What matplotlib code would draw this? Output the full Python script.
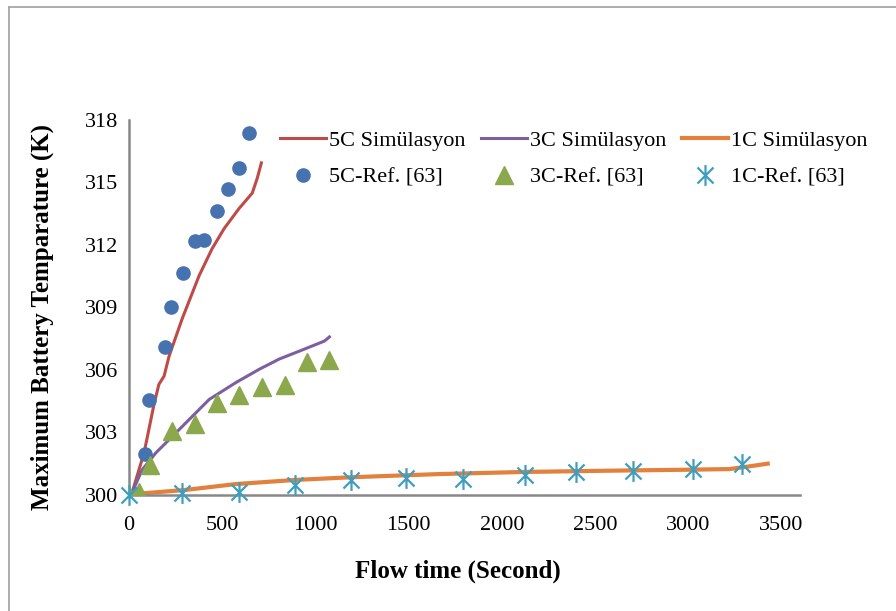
"""
Maximum battery temperature vs. flow time at 1C / 3C / 5C discharge.

Simulation curves (lines) against the reference measurements [63] (markers),
laid out like the Excel original: Times-style text, grey L-shaped axes, a
two-row legend in the upper right and a thin outer frame.
"""

import matplotlib
matplotlib.use("Agg")
import matplotlib.pyplot as plt
from matplotlib.lines import Line2D
from matplotlib.path import Path

# --- simulation curves -------------------------------------------------------
sim_5c_t = [0, 16, 81, 134, 160, 188, 215, 285, 376, 446, 511, 591, 661, 688, 710]
sim_5c_T = [300.0, 300.1, 302.03, 304.34, 305.3, 305.7, 306.66, 308.45, 310.52,
            311.82, 312.79, 313.75, 314.48, 315.2, 315.93]

sim_3c_t = [0, 16, 70, 145, 215, 323, 430, 575, 699, 806, 914, 1048, 1075]
sim_3c_T = [300.0, 300.1, 301.2, 302.03, 302.65, 303.62, 304.58, 305.4, 306.03,
            306.52, 306.9, 307.38, 307.58]

sim_1c_t = [0, 80, 304, 573, 895, 1199, 1664, 2110, 2559, 3006, 3221, 3328, 3426]
sim_1c_T = [300.0, 300.08, 300.24, 300.52, 300.72, 300.85, 301.0, 301.1, 301.16,
            301.21, 301.24, 301.37, 301.5]

# --- reference data [63] -----------------------------------------------------
ref_5c_t = [86, 108, 194, 226, 290, 355, 403, 473, 532, 591, 645]
ref_5c_T = [301.98, 304.54, 307.09, 309.02, 310.67, 312.16, 312.21, 313.61,
            314.67, 315.69, 317.37]

ref_3c_t = [0, 54, 111, 233, 353, 471, 591, 711, 837, 957, 1075]
ref_3c_T = [300.0, 300.16, 301.45, 303.06, 303.41, 304.39, 304.78, 305.2,
            305.26, 306.37, 306.47]

ref_1c_t = [0, 283, 590, 891, 1193, 1488, 1793, 2124, 2398, 2705, 3027, 3289]
ref_1c_T = [300.0, 300.08, 300.16, 300.48, 300.72, 300.81, 300.77, 300.97,
            301.08, 301.16, 301.24, 301.5]

x_ticks = [0, 500, 1000, 1500, 2000, 2500, 3000, 3500]
y_ticks = [300, 303, 306, 309, 312, 315, 318]

plt.rcParams["font.family"] = ["Liberation Serif", "DejaVu Serif"]

# Excel "star" marker: an X with a vertical bar through it
star = Path(
    [(-1, -1), (1, 1), (-1, 1), (1, -1), (0, -1.3), (0, 1.3)],
    [Path.MOVETO, Path.LINETO, Path.MOVETO, Path.LINETO, Path.MOVETO, Path.LINETO],
)

fig = plt.figure(figsize=(8.96, 6.11), dpi=100)
ax = fig.add_axes([0.144, 0.19, 0.749, 0.614])

l5, = ax.plot(sim_5c_t, sim_5c_T, color="#BE4B48", lw=2.2, zorder=2)
l3, = ax.plot(sim_3c_t, sim_3c_T, color="#7D5FA0", lw=2.2, zorder=2)
l1, = ax.plot(sim_1c_t, sim_1c_T, color="#E2803D", lw=3.0, zorder=2)

m5, = ax.plot(ref_5c_t, ref_5c_T, ls="none", marker="o", ms=9.5,
              color="#4672B0", mec="#4672B0", zorder=3)
m3, = ax.plot(ref_3c_t, ref_3c_T, ls="none", marker="^", ms=13,
              color="#8BA84C", mec="#8BA84C", zorder=3)
m1, = ax.plot(ref_1c_t, ref_1c_T, ls="none", marker=star, ms=15, mew=1.6,
              color="#3F9DBD", zorder=4, clip_on=False)

ax.set_xlim(0, 3600)
ax.set_ylim(300, 318)
ax.set_xticks(x_ticks)
ax.set_yticks(y_ticks)
ax.tick_params(length=0, labelsize=16)
ax.tick_params(axis="x", pad=15)
ax.tick_params(axis="y", pad=8)

for side in ("top", "right"):
    ax.spines[side].set_visible(False)
for side in ("left", "bottom"):
    ax.spines[side].set_color("#888888")
    ax.spines[side].set_linewidth(1.8)

ax.set_xlabel("Flow time (Second)", fontsize=18, fontweight="bold")
ax.set_ylabel("Maximum Battery Temparature (K)", fontsize=18, fontweight="bold")
ax.xaxis.set_label_coords(0.49, -0.173)
ax.yaxis.set_label_coords(-0.112, 0.475)

# legend is filled column-first, so interleave to get the two rows right
ax.legend(
    [l5, m5, l3, m3, l1, m1],
    ["5C Simülasyon", "5C-Ref. [63]", "3C Simülasyon", "3C-Ref. [63]",
     "1C Simülasyon", "1C-Ref. [63]"],
    ncol=3, frameon=False, fontsize=16, loc="upper left",
    bbox_to_anchor=(0.313, 0.787), bbox_transform=fig.transFigure,
    borderpad=0, borderaxespad=0, handlelength=2.05, handletextpad=0.15,
    columnspacing=0.7, labelspacing=0.75,
)

# thin grey outer frame (only top and left edges fall inside the image)
fig.add_artist(Line2D([0.0095, 1.0], [0.989, 0.989], transform=fig.transFigure,
                      color="#A6A6A6", lw=1.3))
fig.add_artist(Line2D([0.0095, 0.0095], [0.0, 0.989], transform=fig.transFigure,
                      color="#A6A6A6", lw=1.3))

fig.savefig("out.png", dpi=100)
